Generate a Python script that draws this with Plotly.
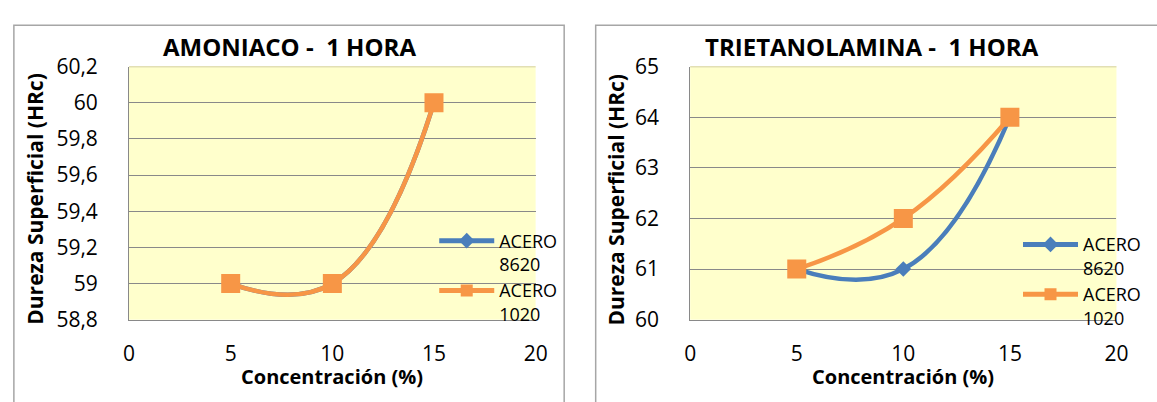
import plotly.graph_objects as go

W, H = 1157, 402

# --- data -------------------------------------------------------------
concentracion = [5, 10, 15]

amoniaco_8620 = [59, 59, 60]
amoniaco_1020 = [59, 59, 60]

trietanolamina_8620 = [61, 61, 64]
trietanolamina_1020 = [61, 62, 64]

series_names = ["ACERO<br>8620", "ACERO<br>1020"]

x_ticks = [0, 5, 10, 15, 20]
amoniaco_y_ticks = [58.8, 59.0, 59.2, 59.4, 59.6, 59.8, 60.0, 60.2]
amoniaco_y_labels = ["58,8", "59", "59,2", "59,4", "59,6", "59,8", "60", "60,2"]
trieta_y_ticks = [60, 61, 62, 63, 64, 65]
trieta_y_labels = ["60", "61", "62", "63", "64", "65"]

titles = ["AMONIACO -\u00a0 1 HORA", "TRIETANOLAMINA -\u00a0 1 HORA"]
x_title = "Concentración (%)"
y_title = "Dureza Superficial (HRc)"

# --- style ------------------------------------------------------------
FONT = "Open Sans"
BLUE = "#4A7EBB"
ORANGE = "#F79646"
GRID = "#898989"
PLOT_BG = "#FFFFCC"
FRAME = "#A6A6A6"


def px(x):
    """pixel column -> paper fraction"""
    return x / W


def py(y):
    """pixel row -> paper fraction"""
    return 1 - y / H


fig = go.Figure()

panels = [
    ("x", "y", "legend", amoniaco_8620, amoniaco_1020),
    ("x2", "y2", "legend2", trietanolamina_8620, trietanolamina_1020),
]
for xa, ya, leg, s8620, s1020 in panels:
    fig.add_trace(go.Scatter(
        x=concentracion, y=s8620, name=series_names[0],
        xaxis=xa, yaxis=ya, legend=leg,
        mode="lines+markers",
        line=dict(color=BLUE, width=4.5, shape="spline", smoothing=1.3),
        marker=dict(symbol="diamond", size=12, color=BLUE, line=dict(width=0)),
    ))
    fig.add_trace(go.Scatter(
        x=concentracion, y=s1020, name=series_names[1],
        xaxis=xa, yaxis=ya, legend=leg,
        mode="lines+markers",
        line=dict(color=ORANGE, width=4.5, shape="spline", smoothing=1.3),
        marker=dict(symbol="square", size=19, color=ORANGE, line=dict(width=0)),
    ))

y_dom = [py(327.5), py(55.5)]
x_doms = [[px(125), px(538)], [px(695), px(1128)]]

common_x = dict(
    range=[0, 20], tickvals=x_ticks, ticktext=[str(v) for v in x_ticks],
    showgrid=False, zeroline=False, showline=True, linecolor=GRID, linewidth=1,
    ticks="", ticklabelstandoff=15,
    tickfont=dict(family=FONT, size=21, color="#000000"),
    fixedrange=True,
)
common_y = dict(
    showgrid=True, gridcolor=GRID, gridwidth=1, zeroline=False,
    showline=True, linecolor=GRID, linewidth=1,
    ticks="", ticklabelstandoff=26,
    tickfont=dict(family=FONT, size=21, color="#000000"),
    fixedrange=True,
)

legend_style = dict(
    xanchor="left", yanchor="top", bgcolor="rgba(0,0,0,0)",
    valign="top", tracegroupgap=0, itemwidth=55, itemsizing="constant",
    font=dict(family=FONT, size=18, color="#000000"),
)

fig.update_layout(
    width=W, height=H,
    margin=dict(l=0, r=0, t=0, b=0),
    paper_bgcolor="#FFFFFF",
    plot_bgcolor=PLOT_BG,
    xaxis=dict(domain=x_doms[0], anchor="y", **common_x),
    yaxis=dict(domain=y_dom, anchor="x", range=[58.8, 60.2],
               tickvals=amoniaco_y_ticks, ticktext=amoniaco_y_labels, **common_y),
    xaxis2=dict(domain=x_doms[1], anchor="y2", **common_x),
    yaxis2=dict(domain=y_dom, anchor="x2", range=[60, 65],
                tickvals=trieta_y_ticks, ticktext=trieta_y_labels, **common_y),
    legend=dict(x=px(435), y=py(223), **legend_style),
    legend2=dict(x=px(1028), y=py(227), **legend_style),
    showlegend=True,
)

# chart frames
frames = [(8, 11, 567, 420), (599, 11, 1175, 420)]
for x0, y0, x1, y1 in frames:
    fig.add_shape(type="rect", xref="paper", yref="paper",
                  x0=px(x0), x1=px(x1), y0=py(y1), y1=py(y0),
                  line=dict(color=FRAME, width=1.5), fillcolor="rgba(0,0,0,0)",
                  layer="below")

# faint top edge of each plot area
for xr, yr in [("x domain", "y domain"), ("x2 domain", "y2 domain")]:
    fig.add_shape(type="line", xref=xr, yref=yr, x0=0, x1=1, y0=1, y1=1,
                  line=dict(color="#E2DFB4", width=1.5))

# titles
centers = [(287.5, 331), (880, 911)]
ytitle_x = [30, 620]
for i, (tc, xc) in enumerate(centers):
    fig.add_annotation(text=f"<b>{titles[i]}</b>", xref="paper", yref="paper",
                       x=px(tc), y=py(34), xanchor="center", yanchor="middle",
                       showarrow=False, font=dict(family=FONT, size=24, color="#000000"))
    fig.add_annotation(text=f"<b>{x_title}</b>", xref="paper", yref="paper",
                       x=px(xc), y=py(389), xanchor="center", yanchor="middle",
                       showarrow=False, font=dict(family=FONT, size=20, color="#000000"))
    fig.add_annotation(text=f"<b>{y_title}</b>", xref="paper", yref="paper",
                       x=px(ytitle_x[i]), y=py(198), xanchor="center", yanchor="middle",
                       textangle=-90, showarrow=False,
                       font=dict(family=FONT, size=21, color="#000000"))

fig.write_html("out.html")
